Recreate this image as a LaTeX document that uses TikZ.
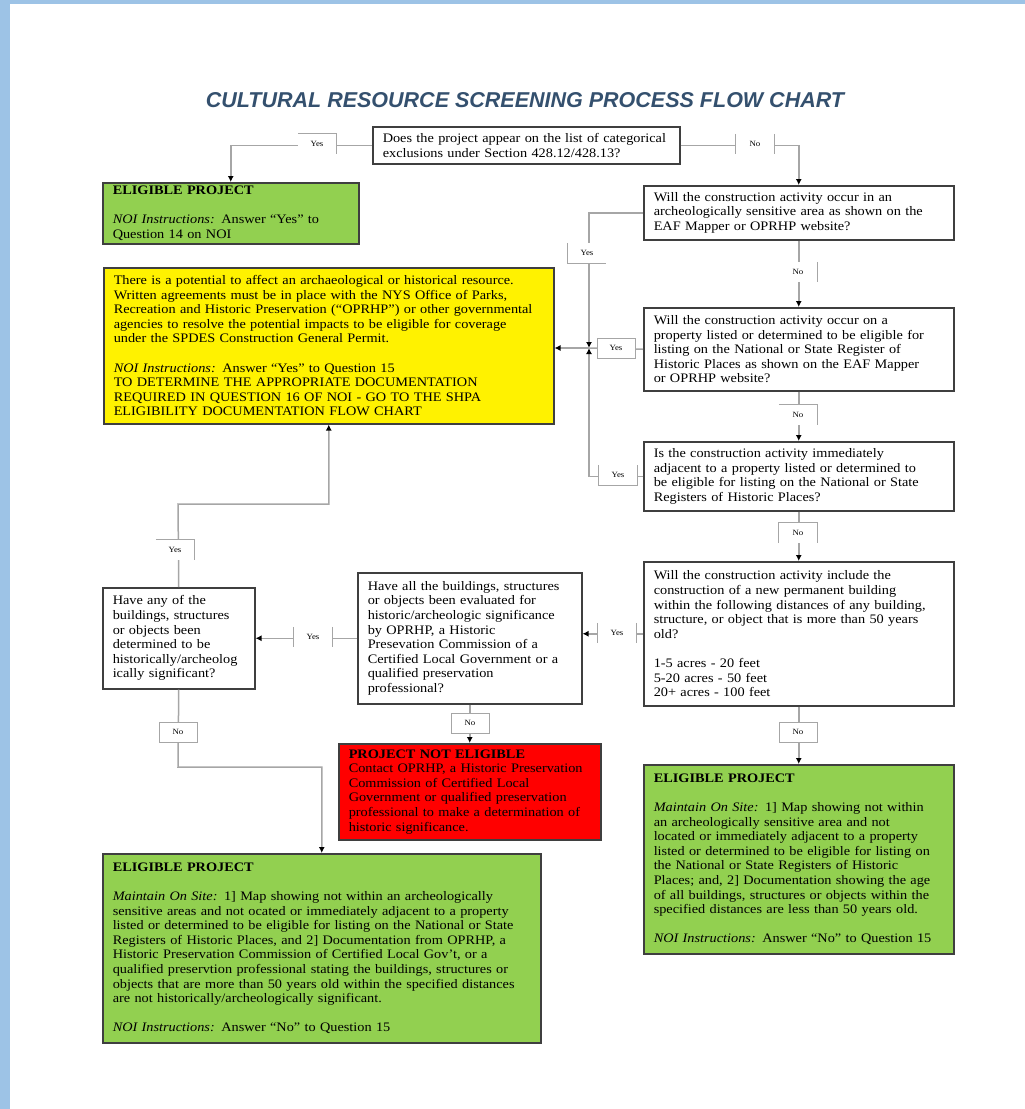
\documentclass[tikz,border=0pt]{standalone}
\usepackage{fontspec}
\setmainfont{Liberation Serif}[FakeStretch=1.1]
\newfontfamily\titlefont{Liberation Sans}
\usetikzlibrary{arrows.meta}
\definecolor{boxgray}{HTML}{3F3F3F}
\definecolor{linegray}{HTML}{A6A6A6}
\definecolor{okgreen}{HTML}{92D050}
\definecolor{titleblue}{HTML}{34506E}
\definecolor{pageblue}{HTML}{9DC3E6}
\newcommand\boxfont{\fontsize{13}{14.6}\selectfont}
\newcommand\answerfont{\fontsize{8}{9}\selectfont}
\tikzset{>=latex}
\tikzstyle{flow box}=[draw=boxgray,line width=1.5pt,align=left,anchor=north west,
                      inner xsep=10pt,inner ysep=2pt,font=\boxfont]
\tikzstyle{flow line}=[draw=linegray,line width=1.5pt]
\tikzstyle{flow arrow}=[flow line,-{Latex[length=6pt,width=6pt,color=black]}]
\tikzstyle{answer}=[fill=white,font=\answerfont,minimum width=38pt,minimum height=20pt,inner sep=0pt]
\tikzstyle{answer box}=[answer,draw=linegray,line width=0.8pt]
\tikzstyle{answer edge}=[draw=linegray,line width=0.8pt]

\begin{document}
\begin{tikzpicture}[x=1pt,y=-1pt]
        \useasboundingbox (0,0) rectangle (1025,1109);

        % PAGE EDGE
        \fill[pageblue] (0,0) rectangle (10,1109);
        \fill[pageblue] (0,0) rectangle (1025,4);

        % TITLE
        \node[font={\titlefont\bfseries\itshape\fontsize{21.5}{24}\selectfont},text=titleblue] (title)
            at (525,100) {CULTURAL RESOURCE SCREENING PROCESS FLOW CHART};

        % QUESTIONS, RIGHT COLUMN
        \node[flow box,text width=287pt,minimum height=37pt] (q0) at (372,126)
            {Does the project appear on the list of categorical\\exclusions under Section 428.12/428.13?};
        \node[flow box,text width=290pt,minimum height=54pt] (q1) at (643,185)
            {Will the construction activity occur in an\\archeologically sensitive area as shown on the\\EAF Mapper or OPRHP website?};
        \node[flow box,text width=290pt,minimum height=83pt] (q2) at (643,307)
            {Will the construction activity occur on a\\property listed or determined to be eligible for\\listing on the National or State Register of\\Historic Places as shown on the EAF Mapper\\or OPRHP website?};
        \node[flow box,text width=290pt,minimum height=69pt] (q3) at (643,441)
            {Is the construction activity immediately\\adjacent to a property listed or determined to\\be eligible for listing on the National or State\\Registers of Historic Places?};
        \node[flow box,text width=290pt,minimum height=144pt] (q4) at (643,561)
            {Will the construction activity include the\\construction of a new permanent building\\within the following distances of any building,\\structure, or object that is more than 50 years\\old?\\[\baselineskip]1-5 acres - 20 feet\\5-20 acres - 50 feet\\20+ acres - 100 feet};

        % QUESTIONS, LEFT
        \node[flow box,text width=132pt,minimum height=101pt] (q5) at (102,587)
            {Have any of the\\buildings, structures\\or objects been\\determined to be\\historically/archeolog\\ically  significant?};
        \node[flow box,text width=204pt,minimum height=131pt] (q6) at (357,572)
            {Have all the buildings, structures\\or objects been evaluated for\\historic/archeologic significance\\by OPRHP, a Historic\\Presevation Commission of a\\Certified Local Government or a\\qualified preservation\\professional?};

        % OUTCOMES
        \node[flow box,fill=okgreen,text width=236pt,minimum height=61pt] (g1) at (102,182)
            {\textbf{ELIGIBLE PROJECT}\\[\baselineskip]\textit{NOI Instructions:} Answer “Yes” to\\Question 14 on NOI};
        \node[flow box,fill=yellow,text width=430pt,minimum height=156pt] (yel) at (103,267)
            {There is a potential to affect an archaeological or  historical resource.\\Written agreements must be in place with the NYS Office of Parks,\\Recreation and Historic Preservation (“OPRHP”) or other governmental\\agencies to resolve the potential impacts to be eligible for coverage\\under the SPDES Construction General Permit.\\[\baselineskip]\textit{NOI Instructions:} Answer “Yes” to Question 15\\TO DETERMINE THE APPROPRIATE DOCUMENTATION\\REQUIRED IN QUESTION 16 OF NOI -  GO TO THE SHPA\\ELIGIBILITY DOCUMENTATION FLOW CHART};
        \node[flow box,fill=red,text width=242pt,minimum height=96pt] (red) at (338,743)
            {\textbf{PROJECT NOT ELIGIBLE}\\Contact OPRHP, a Historic Preservation\\Commission of Certified Local\\Government or qualified preservation\\professional to make a determination of\\historic significance.};
        \node[flow box,fill=okgreen,text width=418pt,minimum height=189pt] (g2) at (102,853)
            {\textbf{ELIGIBLE PROJECT}\\[\baselineskip]\textit{Maintain On Site:} 1] Map showing not within an archeologically\\sensitive areas and not ocated or immediately adjacent to a property\\listed or determined to be eligible for listing on the National or State\\Registers of Historic Places, and 2] Documentation from OPRHP, a\\Historic Preservation Commission of Certified Local Gov't, or a\\qualified preservtion professional stating the buildings, structures or\\objects that are more than 50 years old within the specified distances\\are not historically/archeologically significant.\\[\baselineskip]\textit{NOI Instructions:} Answer “No” to Question 15};
        \node[flow box,fill=okgreen,text width=290pt,minimum height=189pt] (g3) at (643,764)
            {\textbf{ELIGIBLE PROJECT}\\[\baselineskip]\textit{Maintain On Site:} 1]  Map showing not within\\an archeologically sensitive area and not\\located or immediately adjacent to a property\\listed or determined to be eligible for listing on\\the National or State Registers of Historic\\Places; and, 2] Documentation showing the age\\of all buildings, structures or objects within the\\specified distances are less than 50 years old.\\[\baselineskip]\textit{NOI Instructions:} Answer “No” to Question 15};

        % CONNECTORS
        \coordinate (jn) at (589,348); % junction of the yes branches
        \coordinate (bk1) at (178,504);
        \coordinate (bk2) at (178,767);
        \draw[flow arrow] (q0.west) -| (g1.north);
        \draw[flow arrow] (q0.east) -| (q1.north);
        \draw[flow arrow] (q1.south) -- (q2.north);
        \draw[flow arrow] (q2.south) -- (q3.north);
        \draw[flow arrow] (q3.south) -- (q4.north);
        \draw[flow arrow] (q4.south) -- (g3.north);
        \draw[flow arrow] (q1.west) -| (jn);
        \draw[flow arrow] (q3.west) -| (jn);
        \draw[flow line]  (q2.west) -- (jn);
        \draw[flow arrow] (jn) -- (jn -| yel.east);
        \draw[flow arrow] (q4.west) -- (q4.west -| q6.east);
        \draw[flow arrow] (q6.west) -- (q6.west -| q5.east);
        \draw[flow arrow] (q5.north) -- (bk1) -| (yel.south);
        \draw[flow arrow] (q6.south) -- (red.north);
        \draw[flow arrow] (q5.south) -- (bk2) -| (g2.north);

        % ANSWERS
        \node[answer] (q0yes) at (317,144) {Yes};
        \draw[answer edge] (q0yes.north west) -- (q0yes.north east) -- (q0yes.south east);
        \node[answer] (q0no) at (755,144) {No};
        \draw[answer edge] (q0no.north west) -- (q0no.south west);
        \draw[answer edge] (q0no.north east) -- (q0no.south east);
        \node[answer] (q1yes) at (587,253) {Yes};
        \draw[answer edge] (q1yes.north west) -- (q1yes.south west) -- (q1yes.south east);
        \node[answer] (q1no) at (798,272) {No};
        \draw[answer edge] (q1no.north east) -- (q1no.south east);
        \node[answer box] (q2yes) at (616,348) {Yes};
        \node[answer] (q2no) at (798,415) {No};
        \draw[answer edge] (q2no.north west) -- (q2no.north east) -- (q2no.south east);
        \node[answer] (q3yes) at (618,475) {Yes};
        \draw[answer edge] (q3yes.north west) -- (q3yes.south west) -- (q3yes.south east) -- (q3yes.north east);
        \node[answer] (q3no) at (798,533) {No};
        \draw[answer edge] (q3no.south west) -- (q3no.north west) -- (q3no.north east) -- (q3no.south east);
        \node[answer] (q4yes) at (617,633) {Yes};
        \draw[answer edge] (q4yes.north west) -- (q4yes.south west);
        \draw[answer edge] (q4yes.north east) -- (q4yes.south east);
        \node[answer box] (q4no) at (798,732) {No};
        \node[answer] (q6yes) at (313,637) {Yes};
        \draw[answer edge] (q6yes.north west) -- (q6yes.south west);
        \draw[answer edge] (q6yes.north east) -- (q6yes.south east);
        \node[answer] (q5yes) at (175,550) {Yes};
        \draw[answer edge] (q5yes.north west) -- (q5yes.north east) -- (q5yes.south east);
        \node[answer box] (q5no) at (178,732) {No};
        \node[answer box] (q6no) at (470,723) {No};

\end{tikzpicture}
\end{document}
